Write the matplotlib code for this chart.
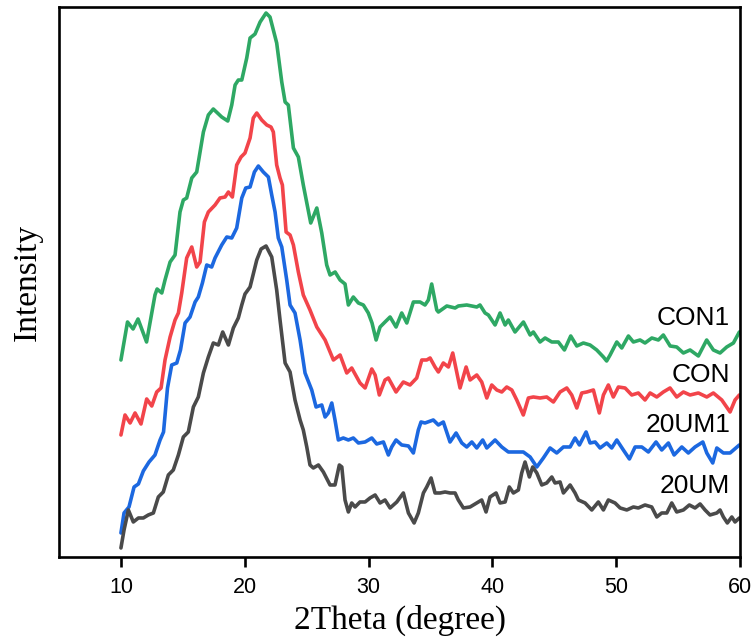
import numpy as np
import matplotlib.pyplot as plt

# 2Theta (degree) and intensity (a.u.)
con1_x = [10.0, 10.53, 10.98, 11.38, 12.07, 12.75, 12.92, 13.30, 13.56, 13.97, 14.37, 14.77, 15.04, 15.31,
          15.72, 16.12, 16.66, 17.06, 17.46, 18.14, 18.63, 18.95, 19.22, 19.48, 19.76, 20.16, 20.43, 20.83,
          21.24, 21.72, 22.04, 22.58, 22.99, 23.26, 23.52, 23.93, 24.33, 24.73, 25.33, 25.82, 26.22, 26.62,
          26.89, 27.30, 27.70, 28.10, 28.37, 28.77, 29.18, 29.58, 29.98, 30.28, 30.61, 30.93, 31.33, 31.74,
          32.22, 32.68, 33.09, 33.62, 34.16, 34.56, 34.83, 35.10, 35.51, 35.64, 36.32, 36.99, 37.25, 37.93,
          38.74, 39.0, 39.41, 39.68, 40.22, 40.62, 41.03, 41.29, 41.83, 42.51, 43.05, 43.31, 43.85, 44.26,
          44.80, 45.33, 45.82, 46.33, 46.82, 47.35, 47.89, 48.43, 48.97, 49.23, 49.51, 50.05, 50.45, 50.99,
          51.39, 51.93, 52.33, 52.88, 53.41, 53.81, 54.36, 54.89, 55.43, 55.97, 56.64, 57.31, 57.85, 58.39,
          58.93, 59.47, 59.95]
con1_y = [197, 235, 228, 238, 215, 262, 268, 264, 277, 295, 302, 345, 357, 359,
          379, 385, 425, 442, 448, 440, 436, 452, 472, 477, 477, 499, 519, 523,
          535, 544, 540, 514, 475, 455, 452, 409, 400, 372, 334, 349, 324, 292,
          282, 285, 277, 273, 252, 260, 254, 252, 244, 234, 217, 230, 235, 240,
          230, 244, 234, 255, 255, 252, 257, 273, 247, 245, 251, 249, 251, 252,
          250, 252, 244, 242, 232, 244, 232, 237, 225, 235, 222, 225, 215, 219,
          215, 215, 207, 221, 211, 214, 212, 207, 200, 196, 202, 215, 209, 221,
          215, 217, 214, 219, 217, 222, 211, 210, 204, 207, 201, 217, 207, 204,
          210, 214, 225]

con_x = [10.0, 10.33, 10.74, 11.14, 11.62, 12.08, 12.49, 12.89, 13.24, 13.56, 13.97, 14.37, 14.64, 14.91,
         15.31, 15.72, 16.12, 16.39, 16.74, 17.06, 17.60, 18.0, 18.41, 18.68, 19.0, 19.35, 19.70, 20.02,
         20.43, 20.69, 20.97, 21.37, 21.78, 22.12, 22.31, 22.58, 22.85, 23.04, 23.34, 23.66, 23.93, 24.33,
         24.73, 25.27, 25.82, 26.49, 27.16, 27.70, 28.24, 28.64, 29.31, 29.72, 30.26, 30.53, 30.87, 31.33,
         31.60, 32.22, 32.81, 33.35, 33.89, 34.30, 34.70, 34.97, 35.37, 35.64, 36.04, 36.45, 36.80, 37.12,
         37.39, 37.88, 38.20, 38.74, 39.14, 39.55, 39.95, 40.36, 40.76, 41.16, 41.57, 41.97, 42.50, 42.91,
         43.31, 43.85, 44.39, 44.93, 45.47, 46.01, 46.41, 46.82, 47.22, 47.63, 48.16, 48.64, 48.97, 49.37,
         49.77, 50.18, 50.72, 51.26, 51.79, 52.33, 52.74, 53.28, 53.81, 54.35, 54.89, 55.43, 55.97, 56.64,
         57.32, 57.85, 58.53, 59.20, 59.60, 59.95]
con_y = [122, 142, 134, 144, 133, 158, 151, 165, 169, 197, 220, 237, 244, 264,
         299, 310, 290, 295, 335, 345, 352, 359, 360, 365, 360, 392, 400, 404,
         419, 439, 444, 437, 432, 430, 425, 392, 379, 372, 325, 322, 312, 285,
         262, 247, 230, 217, 197, 202, 184, 189, 174, 169, 188, 182, 162, 177,
         179, 165, 175, 172, 179, 197, 197, 199, 190, 185, 194, 190, 204, 185,
         169, 190, 177, 182, 175, 159, 172, 167, 165, 170, 167, 157, 142, 159,
         160, 159, 160, 155, 165, 169, 162, 149, 164, 165, 167, 144, 162, 172,
         160, 170, 169, 162, 164, 157, 164, 160, 165, 169, 160, 165, 162, 164,
         160, 164, 157, 145, 157, 162]

um1_x = [10.0, 10.25, 10.65, 11.06, 11.41, 11.81, 12.27, 12.75, 13.16, 13.44, 13.76, 14.10, 14.51, 14.81,
         15.18, 15.58, 15.99, 16.25, 16.58, 16.93, 17.33, 17.60, 18.14, 18.55, 18.95, 19.35, 19.76, 20.08,
         20.43, 20.78, 21.10, 21.50, 21.91, 22.18, 22.45, 22.71, 22.99, 23.39, 23.66, 24.06, 24.47, 24.87,
         25.41, 25.76, 26.22, 26.49, 26.75, 27.03, 27.29, 27.56, 27.96, 28.37, 28.77, 29.18, 29.72, 30.26,
         30.66, 31.20, 31.60, 31.87, 32.22, 32.68, 33.22, 33.62, 34.02, 34.24, 34.56, 35.23, 35.64, 36.04,
         36.58, 37.07, 37.53, 37.93, 38.34, 38.74, 39.22, 39.55, 40.22, 40.76, 41.29, 41.83, 42.50, 43.05,
         43.59, 44.12, 44.66, 45.20, 45.74, 46.28, 46.68, 47.03, 47.57, 47.89, 48.30, 48.70, 49.24, 49.64,
         50.05, 50.58, 51.07, 51.53, 52.07, 52.60, 53.22, 53.68, 54.22, 54.68, 55.30, 55.83, 56.37, 57.0,
         57.32, 57.80, 58.13, 58.66, 59.20, 59.95]
um1_y = [24, 44, 50, 70, 73, 86, 95, 102, 117, 125, 169, 192, 194, 207,
         234, 240, 255, 260, 274, 292, 290, 299, 312, 320, 319, 329, 359, 369,
         370, 385, 391, 385, 380, 362, 345, 319, 310, 277, 252, 244, 217, 184,
         167, 150, 152, 140, 144, 154, 137, 117, 119, 117, 119, 114, 115, 119,
         113, 115, 102, 110, 117, 112, 111, 104, 127, 135, 134, 137, 132, 135,
         115, 124, 114, 110, 115, 109, 117, 109, 117, 110, 105, 105, 105, 100,
         90, 99, 109, 104, 110, 110, 119, 112, 125, 114, 115, 109, 114, 109,
         117, 107, 98, 110, 110, 105, 115, 107, 114, 102, 110, 104, 110, 115,
         104, 94, 109, 104, 104, 112]

um_x = [10.0, 10.25, 10.60, 11.0, 11.41, 11.81, 12.21, 12.62, 13.02, 13.42, 13.83, 14.23, 14.64, 15.04,
        15.44, 15.85, 16.25, 16.66, 17.06, 17.46, 17.87, 18.22, 18.68, 19.08, 19.48, 19.76, 20.02, 20.43,
        20.97, 21.32, 21.72, 22.18, 22.58, 22.85, 23.26, 23.66, 24.06, 24.47, 24.73, 25.01, 25.27, 25.54,
        25.95, 26.35, 26.89, 27.29, 27.64, 27.84, 28.10, 28.37, 28.64, 28.91, 29.31, 29.72, 30.12, 30.53,
        30.93, 31.33, 31.74, 32.28, 32.81, 33.22, 33.68, 34.02, 34.43, 34.70, 35.05, 35.37, 35.78, 36.18,
        36.58, 36.99, 37.25, 37.66, 38.20, 38.74, 39.14, 39.49, 39.81, 40.30, 40.62, 41.03, 41.37, 41.70,
        42.10, 42.37, 42.64, 42.99, 43.26, 43.59, 43.99, 44.39, 44.80, 45.06, 45.47, 45.74, 46.28, 46.68,
        46.95, 47.49, 48.03, 48.56, 48.97, 49.37, 49.91, 50.32, 50.86, 51.39, 51.79, 52.33, 52.87, 53.28,
        53.68, 54.09, 54.49, 54.89, 55.43, 55.91, 56.37, 56.78, 57.18, 57.58, 58.13, 58.39, 58.66, 58.98,
        59.34, 59.60, 59.95]
um_y = [9, 27, 47, 35, 39, 39, 42, 44, 60, 65, 82, 87, 102, 120,
        125, 150, 160, 184, 200, 214, 212, 225, 212, 229, 239, 252, 263, 270,
        297, 308, 311, 300, 267, 237, 194, 185, 157, 137, 127, 110, 92, 89,
        92, 85, 72, 72, 92, 90, 57, 45, 54, 50, 55, 55, 59, 62,
        54, 57, 49, 55, 64, 44, 34, 44, 64, 70, 79, 64, 64, 65,
        64, 64, 57, 49, 50, 54, 57, 45, 60, 64, 54, 55, 70, 64,
        67, 84, 95, 80, 90, 84, 72, 74, 80, 74, 75, 64, 72, 64,
        57, 54, 47, 55, 47, 57, 54, 49, 47, 50, 49, 52, 50, 40,
        44, 44, 54, 45, 47, 52, 49, 53, 47, 42, 44, 47, 40, 34,
        40, 35, 39]

series = [
    (con1_x, con1_y, '#2EA864', 'CON1', 239),
    (con_x, con_y, '#F2444A', 'CON', 182),
    (um1_x, um1_y, '#1C68E0', '20UM1', 132),
    (um_x, um_y, '#4A4A4A', '20UM', 71),
]

fig = plt.figure(figsize=(7.53, 6.38), dpi=100)
ax = fig.add_axes([0.0784, 0.127, 0.9043, 0.862])

for xs, ys, color, name, label_y in series:
    ax.plot(xs, ys, color=color, linewidth=2.6, solid_joinstyle='round', solid_capstyle='round')
    ax.text(59.2, label_y, name, ha='right', va='center', fontsize=19,
            family='Liberation Sans', color='black')

ax.set_xlim(5, 60)
ax.set_ylim(0, 550)
ax.set_xticks([10, 20, 30, 40, 50, 60])
ax.set_yticks([])
ax.tick_params(axis='x', direction='out', length=7, width=1.9, labelsize=15.5, pad=7.5)
for label in ax.get_xticklabels():
    label.set_family('Liberation Sans')
for spine in ax.spines.values():
    spine.set_linewidth(1.9)

ax.set_xlabel('2Theta (degree)', fontsize=24, family='Liberation Serif', labelpad=5)
ax.set_ylabel('Intensity', fontsize=24, family='Liberation Serif', labelpad=12)

fig.savefig('out.png', dpi=100)
